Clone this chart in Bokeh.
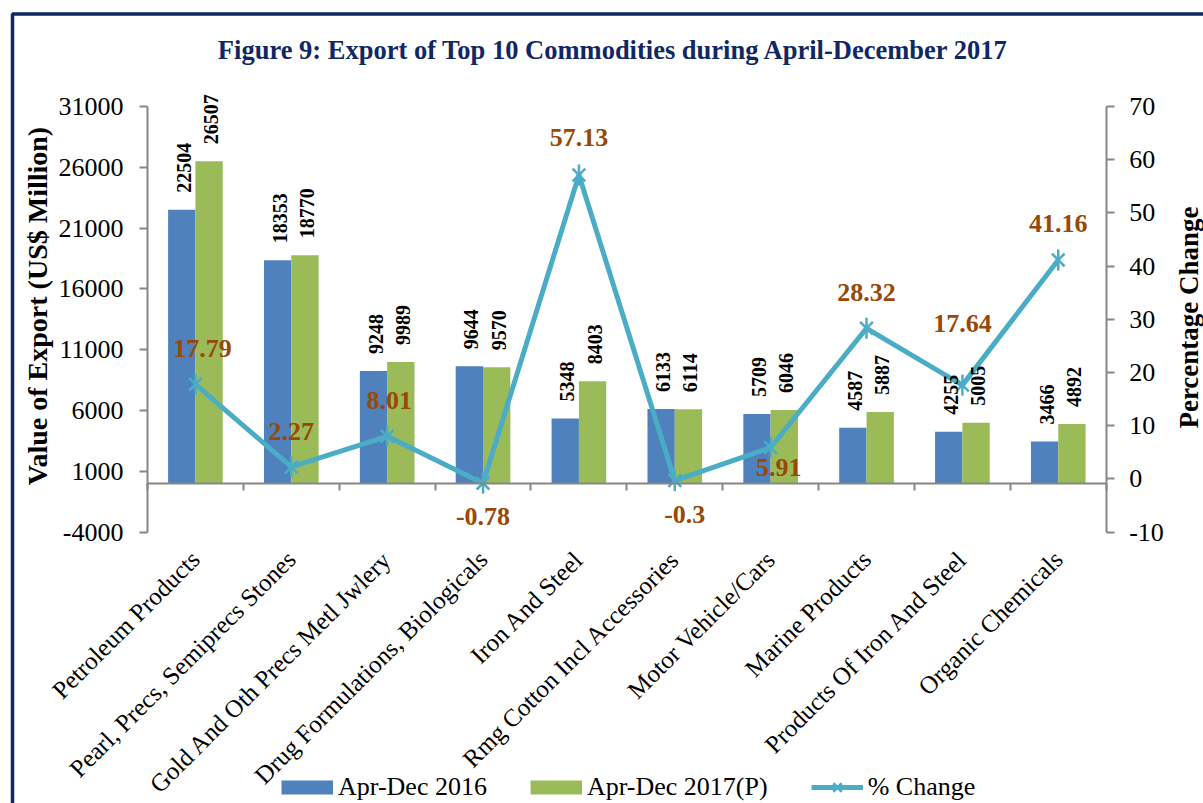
from math import pi
from bokeh.plotting import figure
from bokeh.models import (ColumnDataSource, Range1d, LinearAxis, FixedTicker, Label, LabelSet,
                          Legend, LegendItem, BoxAnnotation, CustomJSTickFormatter)
from bokeh.transform import dodge
from bokeh.core.properties import value
from bokeh.embed import file_html
from bokeh.resources import INLINE

# ---------------- data ----------------
categories = ["Petroleum Products", "Pearl, Precs, Semiprecs Stones", "Gold And Oth Precs Metl Jwlery",
              "Drug Formulations, Biologicals", "Iron And Steel", "Rmg Cotton Incl Accessories",
              "Motor Vehicle/Cars", "Marine Products", "Products Of Iron And Steel", "Organic Chemicals"]
export_2016 = [22504, 18353, 9248, 9644, 5348, 6133, 5709, 4587, 4255, 3466]
export_2017 = [26507, 18770, 9989, 9570, 8403, 6114, 6046, 5887, 5005, 4892]
pct_change = [17.79, 2.27, 8.01, -0.78, 57.13, -0.3, 5.91, 28.32, 17.64, 41.16]
left_ticks = [-4000, 1000, 6000, 11000, 16000, 21000, 26000, 31000]
right_ticks = [-10, 0, 10, 20, 30, 40, 50, 60, 70]
series_names = ["Apr-Dec 2016", "Apr-Dec 2017(P)", "% Change"]
title_text = "Figure 9: Export of Top 10 Commodities during April-December 2017"
left_title = "Value of Export (US$ Million)"
right_title = "Percentage Change"

# ---------------- styles / layout ----------------
FONT = "Liberation Serif"
NAVY = "#0F2864"
BLUE = "#4F81BD"
GREEN = "#9BBB59"
TEAL = "#4BACC6"
BROWN = "#984807"
AXIS_GRAY = "#868686"
W, H = 1203, 803
PLOT_L, PLOT_R, PLOT_T, PLOT_B = 147, 1105.7, 106, 531.7   # plot-area edges, canvas pixels
BAR_W = 0.285
# pixel nudges of the percentage labels (x right, y up)
pct_label_dx = [7, 0, 2, 0, 0, 10, 8, 0, 0, 0]
pct_label_dy = [36, 35, 36, -33, 37, -34, -20, 36, 62, 36]

n = len(categories)
xpx = (PLOT_R - PLOT_L) / n
ypx = (PLOT_B - PLOT_T) / (left_ticks[-1] - left_ticks[0])
rpx = (PLOT_B - PLOT_T) / (right_ticks[-1] - right_ticks[0])


def xdata(cx):
    return (cx - PLOT_L) / xpx


def ydata(cy):
    return left_ticks[-1] - (cy - PLOT_T) / ypx


p = figure(width=W, height=H,
           x_range=Range1d(xdata(0), xdata(W)),
           y_range=Range1d(ydata(H), ydata(0)),
           x_axis_location=None, y_axis_location=None,
           output_backend="svg", toolbar_location=None, min_border=0)
p.extra_y_ranges = {"pct": Range1d(right_ticks[0] - (H - PLOT_B) / rpx,
                                   right_ticks[-1] + PLOT_T / rpx)}
p.title.visible = False
p.outline_line_color = None
p.grid.visible = False
p.background_fill_color = "white"
p.border_fill_color = "white"

plain_int = CustomJSTickFormatter(code="return tick.toFixed(0)")


def style_axis(ax, standoff):
    ax.axis_line_color = AXIS_GRAY
    ax.axis_line_width = 2
    ax.major_tick_line_color = AXIS_GRAY
    ax.major_tick_line_width = 2
    ax.major_tick_out = 8
    ax.major_tick_in = 0
    ax.minor_tick_line_color = None
    ax.major_label_text_font = FONT
    ax.major_label_text_font_size = "26px"
    ax.major_label_text_color = "black"
    ax.major_label_standoff = standoff


# left value axis
yl = LinearAxis(fixed_location=0, bounds=(left_ticks[0], left_ticks[-1]),
                ticker=FixedTicker(ticks=left_ticks), formatter=plain_int)
style_axis(yl, 16)
p.add_layout(yl, "left")

# right percentage axis
yr = LinearAxis(y_range_name="pct", fixed_location=n, bounds=(right_ticks[0], right_ticks[-1]),
                ticker=FixedTicker(ticks=right_ticks),
                formatter=CustomJSTickFormatter(code="return tick.toFixed(0)"))
style_axis(yr, 15)
p.add_layout(yr, "right")

# horizontal axis line at zero with ticks at category boundaries
bounds = list(range(n + 1))
x0 = LinearAxis(fixed_location=0, bounds=(0, n), ticker=FixedTicker(ticks=bounds))
style_axis(x0, 0)
x0.major_tick_out = 7
x0.major_label_text_color = None
p.add_layout(x0, "below")

# category labels under the plot area
centers = [i + 0.5 for i in range(n)]
xc = LinearAxis(fixed_location=left_ticks[0], ticker=FixedTicker(ticks=centers),
                formatter=CustomJSTickFormatter(args=dict(labels=categories),
                                                code="return labels[Math.round(tick - 0.5)] || ''"))
xc.axis_line_color = None
xc.major_tick_line_color = None
xc.minor_tick_line_color = None
xc.major_tick_out = 0
xc.major_tick_in = 0
xc.major_label_orientation = pi / 4
xc.major_label_text_font = FONT
xc.major_label_text_font_size = "25px"
xc.major_label_text_color = "black"
xc.major_label_standoff = 23
p.add_layout(xc, "below")

src = ColumnDataSource(dict(
    x=centers, v16=export_2016, v17=export_2017, pct=pct_change,
    t16=[str(v) for v in export_2016], t17=[str(v) for v in export_2017],
    tpct=[f"{v:g}" for v in pct_change], dx=pct_label_dx, dy=pct_label_dy))

r16 = p.vbar(x=dodge("x", -BAR_W / 2), top="v16", width=BAR_W,
             source=src, fill_color=BLUE, line_color=None)
r17 = p.vbar(x=dodge("x", BAR_W / 2), top="v17", width=BAR_W,
             source=src, fill_color=GREEN, line_color=None)

ln = p.line("x", "pct", source=src, y_range_name="pct", line_color=TEAL, line_width=5)
mx = p.scatter("x", "pct", source=src, y_range_name="pct", marker="x", size=18,
               line_color=TEAL, line_width=2.5)
md = p.scatter("x", "pct", source=src, y_range_name="pct", marker="dash", angle=pi / 2,
               size=21, line_color=TEAL, line_width=2.5)

for col, txt, off in [("v16", "t16", -BAR_W / 2), ("v17", "t17", BAR_W / 2)]:
    p.add_layout(LabelSet(x=dodge("x", off), y=col, text=txt, source=src,
                          angle=pi / 2, text_align="left", text_baseline="middle",
                          x_offset=2, y_offset=17, text_font=value(FONT),
                          text_font_style="bold", text_font_size="20px", text_color="black"))

p.add_layout(LabelSet(x="x", y="pct", y_range_name="pct", text="tpct", source=src,
                      x_offset="dx", y_offset="dy", text_align="center", text_baseline="middle",
                      text_font=value(FONT), text_font_style="bold", text_font_size="26px",
                      text_color=BROWN))

# titles
p.add_layout(Label(x=xdata(613), y=ydata(49.5), text=title_text, text_align="center",
                   text_baseline="middle", text_font=FONT, text_font_style="bold",
                   text_font_size="26.5px", text_color=NAVY))
p.add_layout(Label(x=xdata(37), y=ydata(305.5), text=left_title, angle=pi / 2,
                   text_align="center", text_baseline="middle", text_font=FONT,
                   text_font_style="bold", text_font_size="28px", text_color="black"))
p.add_layout(Label(x=xdata(1188), y=ydata(317), text=right_title, angle=pi / 2,
                   text_align="center", text_baseline="middle", text_font=FONT,
                   text_font_style="bold", text_font_size="27px", text_color="black"))

# page frame
p.add_layout(BoxAnnotation(left=xdata(12), right=xdata(W + 30), top=ydata(13.5), bottom=ydata(H + 30),
                           fill_color=None, fill_alpha=0, line_color=NAVY, line_width=3.5,
                           line_alpha=1))

# legend swatches: off-screen thick lines so the key shows a 52x14 px colour bar
nan = float("nan")
sw16 = p.line(x=[nan], y=[nan], line_color=BLUE, line_width=14)
sw17 = p.line(x=[nan], y=[nan], line_color=GREEN, line_width=14)
LEG_H = 30
lg = Legend(items=[LegendItem(label=series_names[0], renderers=[sw16]),
                   LegendItem(label=series_names[1], renderers=[sw17]),
                   LegendItem(label=series_names[2], renderers=[ln, mx, md])],
            location=(281, H - (787 + LEG_H / 2)),
            orientation="horizontal", glyph_width=52, glyph_height=LEG_H,
            label_standoff=5, padding=0, margin=0, spacing=43,
            border_line_color=None, background_fill_alpha=0,
            label_text_font=FONT, label_text_font_size="26px",
            label_text_color="black")
p.add_layout(lg, "center")

open("out.html", "w").write(file_html(p, INLINE))
